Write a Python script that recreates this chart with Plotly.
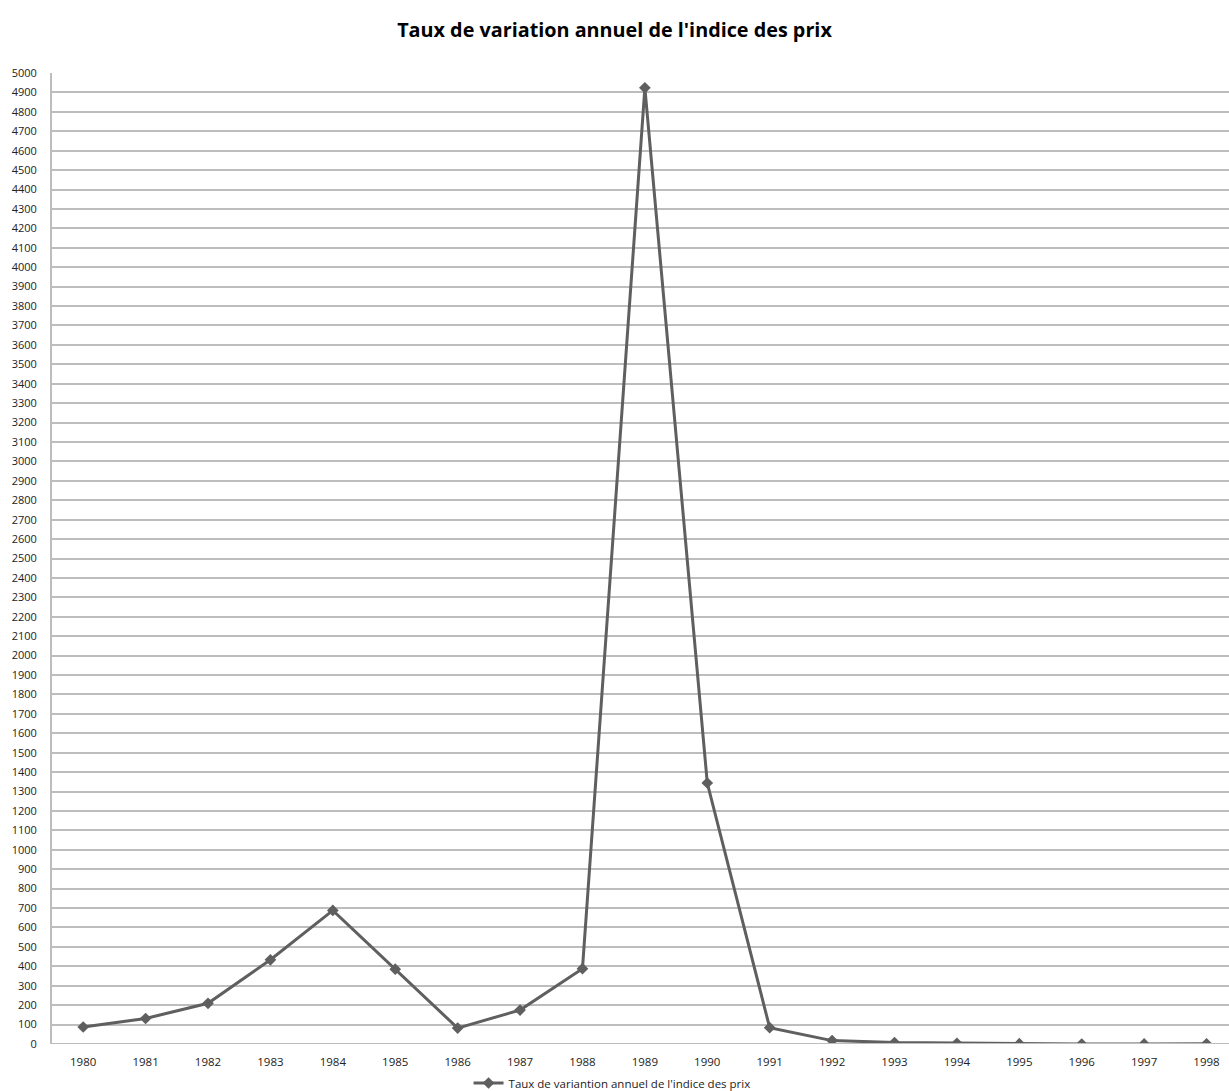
import plotly.graph_objects as go

years = ["1980", "1981", "1982", "1983", "1984", "1985", "1986", "1987", "1988", "1989",
         "1990", "1991", "1992", "1993", "1994", "1995", "1996", "1997", "1998"]
values = [87.6, 131.3, 209.7, 433.7, 688.0, 385.4, 81.9, 174.8, 387.7, 4923.6,
          1343.9, 84.0, 17.5, 7.4, 3.9, 1.6, 0.1, 0.3, 0.7]
series_name = "Taux de variantion annuel de l'indice des prix"
title_text = "Taux de variation annuel de l'indice des prix"
y_ticks = list(range(0, 5001, 100))

x_idx = list(range(len(years)))

fig = go.Figure()
fig.add_trace(go.Scatter(
    x=x_idx, y=values, mode="lines+markers", name=series_name,
    line=dict(color="#5f5f5f", width=3),
    marker=dict(symbol="diamond", size=9, color="#5f5f5f"),
    showlegend=True,
))

fig.update_layout(
    width=1229, height=1091,
    margin=dict(l=52, r=0, t=73, b=45),
    paper_bgcolor="white", plot_bgcolor="white",
    title=dict(text="<b>" + title_text + "</b>", x=0.5, xanchor="center",
               y=1 - 30 / 1091, yanchor="middle",
               font=dict(family="Open Sans, Liberation Sans, sans-serif", size=19.8, color="#000")),
    font=dict(family="Open Sans, Liberation Sans, sans-serif", size=11, color="#222"),
    legend=dict(orientation="h", x=0.498, xref="container", xanchor="center",
                y=1 - 1083 / 1091, yref="container", yanchor="middle",
                font=dict(size=11.5, color="#222"), bgcolor="rgba(0,0,0,0)",
                itemwidth=30, tracegroupgap=0),
    xaxis=dict(
        tickmode="array", tickvals=x_idx, ticktext=years,
        range=[-0.5, 18.36], showgrid=False, zeroline=False,
        showline=False, ticks="", tickfont=dict(size=11.5), ticklabelstandoff=9,
    ),
    yaxis=dict(
        tickmode="array", tickvals=y_ticks, ticktext=[str(v) for v in y_ticks],
        range=[0, 5000], showgrid=True, gridcolor="#bdbdbd", gridwidth=2,
        zeroline=False, showline=True, linecolor="#bdbdbd", linewidth=2,
        ticks="", tickfont=dict(size=11), ticklabelstandoff=11,
    ),
)
fig.add_shape(type="line", xref="paper", yref="y", x0=0, x1=1, y0=0, y1=0,
              line=dict(color="#bdbdbd", width=2))

fig.write_html("out.html", config={"displayModeBar": False},
               post_script="document.body.style.margin='0';document.body.style.overflow='hidden';")
